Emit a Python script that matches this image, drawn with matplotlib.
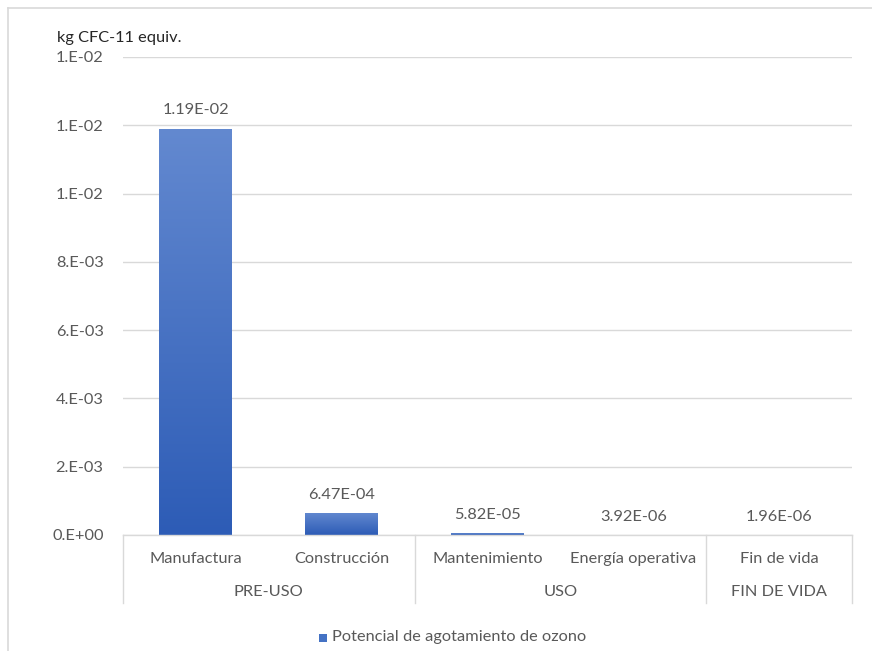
import numpy as np
import matplotlib.pyplot as plt
from matplotlib.colors import LinearSegmentedColormap
from matplotlib.lines import Line2D
from matplotlib.patches import Rectangle

# datos del grafico
categorias = ["Manufactura", "Construcción", "Mantenimiento", "Energía operativa", "Fin de vida"]
valores = [1.19e-02, 6.47e-04, 5.82e-05, 3.92e-06, 1.96e-06]
etiquetas = ["1.19E-02", "6.47E-04", "5.82E-05", "3.92E-06", "1.96E-06"]
grupos = ["PRE-USO", "USO", "FIN DE VIDA"]
grupo_centro = [0.5, 2.5, 4.0]
divisiones = [-0.5, 1.5, 3.5, 4.5]
yticks = [0, 0.002, 0.004, 0.006, 0.008, 0.010, 0.012, 0.014]
unidad = "kg CFC-11 equiv."
serie = "Potencial de agotamiento de ozono"

plt.rcParams['font.family'] = ['Lato', 'DejaVu Sans']
gris = '#595959'
linea = '#d9d9d9'
fs = 11.8

W, H = 872, 651
fig = plt.figure(figsize=(W / 100, H / 100), dpi=100)

# marco exterior
fig.add_artist(Line2D([8 / W, 8 / W], [0, 1 - 8 / H], color=linea, lw=1.2))
fig.add_artist(Line2D([8 / W, 1], [1 - 8 / H, 1 - 8 / H], color=linea, lw=1.2))

x0, x1 = 123, 852
y0, y1 = 535, 57
ax = fig.add_axes([x0 / W, (H - y0) / H, (x1 - x0) / W, (y0 - y1) / H])

for s in ax.spines.values():
    s.set_visible(False)
ax.set_yticks(yticks)
ax.set_yticklabels([f"{v:.0e}".replace("e", ".E").upper() for v in yticks])
ax.tick_params(axis='y', length=0, pad=14, labelsize=fs, labelcolor=gris)
ax.set_xticks([])
ax.yaxis.grid(True, color=linea, lw=1)
ax.set_axisbelow(True)

# barras con degradado vertical
cmap = LinearSegmentedColormap.from_list('azul', ['#2d5cb6', '#6389d0'])
grad = np.linspace(0, 1, 256).reshape(-1, 1)
ancho = 0.5
for i, v in enumerate(valores):
    r = Rectangle((i - ancho / 2, 0), ancho, v, facecolor='none', edgecolor='none')
    ax.add_patch(r)
    im = ax.imshow(grad, cmap=cmap, aspect='auto', origin='lower',
                   extent=(i - ancho / 2, i + ancho / 2, 0, v), zorder=2)
    im.set_clip_path(r)
    ax.text(i, v + 0.00033, etiquetas[i], ha='center', va='bottom', fontsize=fs, color=gris)
ax.set_xlim(-0.5, 4.5)
ax.set_ylim(0, 0.014)

# eje de categorias en dos niveles
trans = ax.get_xaxis_transform()
px = 1 / (y0 - y1)
ax.plot([-0.5, 4.5], [0, 0], color=linea, lw=1, transform=trans, clip_on=False)
for d in divisiones:
    ax.plot([d, d], [0, -68 * px], color=linea, lw=1, transform=trans, clip_on=False)
for i, c in enumerate(categorias):
    ax.text(i, -24 * px, c, ha='center', va='center', fontsize=fs, color=gris, transform=trans)
for g, c in zip(grupos, grupo_centro):
    ax.text(c, -57 * px, g, ha='center', va='center', fontsize=fs, color=gris, transform=trans)

fig.text(57 / W, 1 - 38 / H, unidad, ha='left', va='center', fontsize=fs, color='#262626')

# leyenda
fig.add_artist(Rectangle((319 / W, 1 - 642 / H), 8 / W, 8 / H, facecolor='#4472c4', edgecolor='none'))
fig.text(332 / W, 1 - 637 / H, serie, ha='left', va='center', fontsize=fs, color=gris)

fig.savefig('out.png', dpi=100)
